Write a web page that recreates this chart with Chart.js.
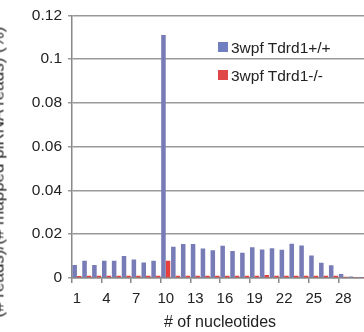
<!DOCTYPE html>
<html>
<head>
<meta charset="utf-8">
<script src="https://cdn.jsdelivr.net/npm/chart.js@4.4.0/dist/chart.umd.min.js"></script>
<style>
  html, body { margin: 0; padding: 0; background: #fff; overflow: hidden; }
  #wrap { position: relative; width: 364px; height: 332px; overflow: hidden; font-family: 'Liberation Sans', Arial, sans-serif; color: #222; }
  #myChart { position: absolute; left: 0; top: 0; }
  .ytitle { position: absolute; left: -2px; top: 172px; transform-origin: 0 0; transform: rotate(-90deg) translate(-50%, -50%); white-space: nowrap; font-size: 17px; line-height: 1; }
  .key { position: absolute; width: 10px; height: 10px; }
  .keytext { position: absolute; font-size: 15.5px; line-height: 1; white-space: nowrap; }
</style>
</head>
<body>
<div id="wrap">
  <canvas id="myChart" width="375" height="332"></canvas>
  <div class="ytitle">(# reads)/(# mapped piRNA reads) (%)</div>
  <div id="legend"></div>
</div>
<script>
// data
const labels = [];
for (let i = 1; i <= 30; i++) labels.push(String(i));

const seriesNames = ['3wpf Tdrd1+/+', '3wpf Tdrd1-/-'];

const wildType = [
    0.0059, 0.0079, 0.0059, 0.0079, 0.0079, 0.0100, 0.0085, 0.0071, 0.0079, 0.1110,
    0.0143, 0.0155, 0.0155, 0.0135, 0.0127, 0.0147, 0.0123, 0.0115, 0.0140, 0.0130,
    0.0136, 0.0129, 0.0156, 0.0149, 0.0103, 0.0070, 0.0058, 0.0018, 0.0007, 0.0004
];
const mutant = [
    0.0009, 0.0010, 0.0010, 0.0010, 0.0010, 0.0010, 0.0010, 0.0010, 0.0010, 0.0079,
    0.0010, 0.0010, 0.0010, 0.0010, 0.0010, 0.0010, 0.0010, 0.0010, 0.0010, 0.0014,
    0.0010, 0.0010, 0.0010, 0.0010, 0.0010, 0.0010, 0.0010, 0.0006, 0.0002, 0.0001
];

const yTicks = [0, 0.02, 0.04, 0.06, 0.08, 0.1, 0.12];

const barColors = ['#787cb6', '#e5403c'];
const keyColors = ['#6f7fc0', '#e04848'];
const GRID = '#999999';
const AXIS = '#888888';

// legend (html, sits inside the plot like the excel one)
const legend = document.getElementById('legend');
seriesNames.forEach(function (name, i) {
    const box = document.createElement('div');
    box.className = 'key';
    box.style.left = '218px';
    box.style.top = (42 + i * 28) + 'px';
    box.style.background = keyColors[i];
    legend.appendChild(box);
    const txt = document.createElement('div');
    txt.className = 'keytext';
    txt.style.left = '231px';
    txt.style.top = (39.5 + i * 28) + 'px';
    txt.textContent = name;
    legend.appendChild(txt);
});

//chart
Chart.defaults.font.family = "'Liberation Sans', Arial, sans-serif";
Chart.defaults.color = '#222';

const data = {
    labels: labels,
    datasets: [{
        label: seriesNames[0],
        backgroundColor: barColors[0],
        data: wildType,
    }, {
        label: seriesNames[1],
        backgroundColor: barColors[1],
        data: mutant,
    }]
};

const config = {
    type: 'bar',
    data: data,
    options: {
        responsive: false,
        animation: false,
        layout: { padding: { top: 14, right: 7, bottom: 0, left: 0 } },
        datasets: {
            bar: { categoryPercentage: 0.92, barPercentage: 1, borderWidth: 0 }
        },
        plugins: {
            legend: { display: false },
            tooltip: { enabled: false }
        },
        scales: {
            x: {
                grid: {
                    drawOnChartArea: false,
                    tickLength: 5,
                    lineWidth: 1.5,
                    color: function (c) { return c.index % 3 === 0 ? AXIS : 'rgba(0,0,0,0)'; }
                },
                border: { color: AXIS, width: 1.5 },
                ticks: {
                    autoSkip: false,
                    maxRotation: 0,
                    padding: 7,
                    font: { size: 15 },
                    callback: function (v, i) { return i % 3 === 0 ? this.getLabelForValue(v) : ''; }
                },
                title: {
                    display: true,
                    text: '# of nucleotides',
                    font: { size: 16 },
                    padding: { top: 0, bottom: 0 }
                },
                afterFit: function (s) { s.height = 54; }
            },
            y: {
                min: yTicks[0],
                max: yTicks[yTicks.length - 1],
                afterBuildTicks: function (s) { s.ticks = yTicks.map(function (v) { return { value: v }; }); },
                ticks: {
                    padding: 6,
                    font: { size: 15.5 },
                    callback: function (v) { return String(+v.toFixed(2)); }
                },
                grid: { color: GRID, lineWidth: 1.5, tickLength: 4 },
                border: { color: AXIS, width: 1.5 },
                afterFit: function (s) { s.width = 72; }
            }
        }
    }
};

const myChart = new Chart(document.getElementById('myChart'), config);
</script>
</body>
</html>
